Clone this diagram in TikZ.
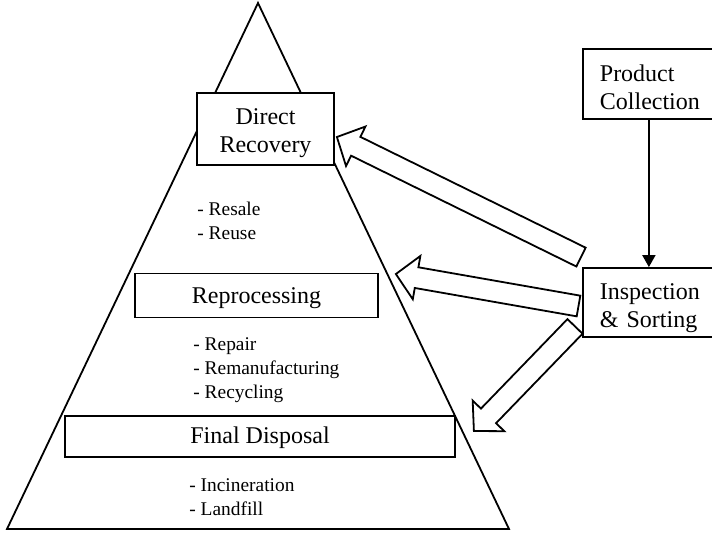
\documentclass[tikz,border=0pt]{standalone}
\usepackage{fontspec}
\setmainfont{Liberation Serif}
\usetikzlibrary{calc}
\usetikzlibrary{arrows.meta}

\newcommand{\hollowarrow}[2]{%
  \coordinate (neck) at ($(#2)!10.5pt!(#1)$);
  \draw[blockarrow] ($(#1)!5.25pt!90:(#2)$) -- ($(neck)!5.25pt!90:(#2)$)
    -- ($(neck)!11pt!90:(#2)$) -- (#2) -- ($(neck)!11pt!-90:(#2)$)
    -- ($(neck)!5.25pt!-90:(#2)$) -- ($(#1)!5.25pt!-90:(#2)$) -- cycle;}
\newcommand{\lowline}{\rule[-3pt]{0pt}{3pt}}

\begin{document}
\begin{tikzpicture}[x=0.5pt,y=-0.5pt,
  stage/.style={draw,fill=white,line width=0.9pt,font=\fontsize{12}{14}\selectfont,align=center,inner sep=0pt},
  sidebox/.style={draw,fill=white,line width=0.9pt,font=\fontsize{12}{14}\selectfont,align=left,
    text width=49pt,inner xsep=8.5pt,inner ysep=0pt,anchor=west},
  items/.style={font=\fontsize{9.7}{12}\selectfont,align=left,inner sep=0pt,anchor=west},
  blockarrow/.style={draw,fill=white,line width=0.9pt}]
  \clip (0,0) rectangle (712,536);
  % pyramid
  \draw[line width=0.9pt] (258,3) -- (7,529) -- (509,529) -- cycle;
  \node[stage,minimum width=68.5pt,minimum height=36pt] (recovery) at (265.5,129)
    {\rule{0pt}{12.2pt}Direct\\\lowline Recovery};
  \node[stage,minimum width=121.5pt,minimum height=22pt,text height=8pt,text depth=0pt] (reproc) at (256.5,295.5) {Reprocessing};
  \node[stage,minimum width=195pt,minimum height=20.5pt,text height=7pt,text depth=0pt] (disposal) at (260,436.5) {Final Disposal};
  \node[items] (reuse) at (197,221) {- Resale\\- Reuse};
  \node[items] (recycle) at (193,370) {- Repair\\- Remanufacturing\\- Recycling};
  \node[items] (landfill) at (189,497) {- Incineration\\- Landfill};
  % collection and sorting
  \node[sidebox,minimum height=35pt] (collect) at (582,84) {\rule{0pt}{14pt}Product\\\lowline Collection};
  \node[sidebox,minimum height=34.5pt] (inspect) at (582,302.5) {\rule{0pt}{14pt}Inspection\\\lowline\& Sorting};
  \draw[line width=0.9pt,-{Triangle[width=6.5pt,length=6pt]}] (collect) -- (inspect);
  % flows back into the pyramid
  \coordinate (tail1) at ($(inspect.north west)+(-1,-10)$);
  \coordinate (tail2) at ($(inspect.west)+(-3.5,3.5)$);
  \coordinate (tail3) at ($(inspect.south west)+(-7,-11.5)$);
  \coordinate (tip1) at ($(recovery.east)+(2,8)$);
  \coordinate (tip2) at ($(reproc.east)+(17,-21.5)$);
  \coordinate (tip3) at ($(disposal.east)+(18,-5.5)$);
  \hollowarrow{tail1}{tip1}
  \hollowarrow{tail2}{tip2}
  \hollowarrow{tail3}{tip3}
\end{tikzpicture}
\end{document}
